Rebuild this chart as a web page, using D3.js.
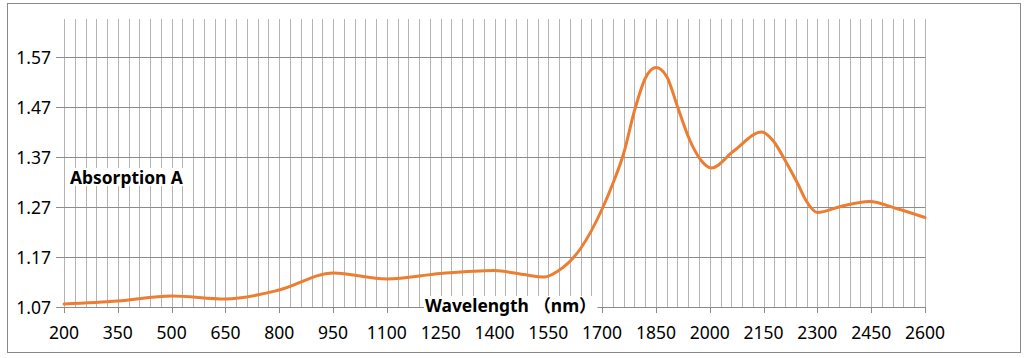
<!DOCTYPE html>
<html>
<head>
<meta charset="utf-8">
<script src="https://cdn.jsdelivr.net/npm/d3@7"></script>
<style>
  html, body { margin: 0; padding: 0; background: #fff; }
  svg { display: block; }
</style>
</head>
<body>
<svg id="chart" width="1028" height="358"></svg>
<script>
// ---- data ----
const wavelengths = [200, 350, 500, 650, 800, 950, 1100, 1250, 1400, 1480, 1540, 1575, 1640, 1700, 1730, 1760, 1790, 1820, 1850, 1880, 1910, 1940, 1975, 2005, 2065, 2145, 2175, 2215, 2245, 2270, 2300, 2365, 2445, 2520, 2600];
const absorbance  = [1.076, 1.082, 1.092, 1.086, 1.104, 1.138, 1.126, 1.137, 1.143, 1.135, 1.130, 1.141, 1.187, 1.266, 1.317, 1.377, 1.462, 1.527, 1.549, 1.531, 1.471, 1.411, 1.364, 1.348, 1.381, 1.420, 1.404, 1.357, 1.317, 1.281, 1.259, 1.271, 1.281, 1.267, 1.249];
const xTickValues = [200, 350, 500, 650, 800, 950, 1100, 1250, 1400, 1550, 1700, 1850, 2000, 2150, 2300, 2450, 2600];
const yTickValues = [1.07, 1.17, 1.27, 1.37, 1.47, 1.57];
const xGridValues = d3.range(200, 2601, 30);
const yTitle = "Absorption  A";
const xTitle = "Wavelength （nm）";

// ---- layout ----
const svg = d3.select("#chart");
const pLeft = 64, pRight = 925, pTop = 19, pBottom = 307;
const x = d3.scaleLinear().domain([200, 2600]).range([pLeft, pRight]);
const y = d3.scaleLinear().domain([1.07, 1.57]).range([pBottom, pBottom - 250]);
const font = "'Noto Sans', 'Noto Sans CJK SC', sans-serif";

// outer border
svg.append("rect").attr("x", 7.5).attr("y", 3.5).attr("width", 1013).attr("height", 349)
  .attr("fill", "#fff").attr("stroke", "#898989").attr("stroke-width", 1);

// vertical gridlines
svg.append("g").selectAll("line").data(xGridValues).join("line")
  .attr("x1", d => Math.round(x(d)) + 0.5).attr("x2", d => Math.round(x(d)) + 0.5)
  .attr("y1", pTop).attr("y2", pBottom)
  .attr("stroke", "#b4b4b4").attr("stroke-width", 1);

// horizontal gridlines
svg.append("g").selectAll("line").data(yTickValues).join("line")
  .attr("x1", pLeft - 8).attr("x2", pRight + 0.5)
  .attr("y1", d => Math.round(y(d)) + 0.5).attr("y2", d => Math.round(y(d)) + 0.5)
  .attr("stroke", "#8c8c8c").attr("stroke-width", 1);

// x axis ticks
svg.append("g").selectAll("line").data(xTickValues).join("line")
  .attr("x1", d => Math.round(x(d)) + 0.5).attr("x2", d => Math.round(x(d)) + 0.5)
  .attr("y1", pBottom).attr("y2", pBottom + 6)
  .attr("stroke", "#8c8c8c").attr("stroke-width", 1);

// x tick labels
svg.append("g").selectAll("text").data(xTickValues).join("text")
  .attr("x", d => x(d)).attr("y", 338.5)
  .attr("text-anchor", "middle")
  .attr("font-family", font).attr("font-size", 17.5).attr("fill", "#000")
  .text(d => d);

// y tick labels
svg.append("g").selectAll("text").data(yTickValues).join("text")
  .attr("x", 51).attr("y", d => y(d) + 6.5)
  .attr("text-anchor", "end")
  .attr("font-family", font).attr("font-size", 17.5).attr("fill", "#000")
  .text(d => d.toFixed(2));

// curve
const line = d3.line()
  .x((d, i) => x(wavelengths[i]))
  .y(d => y(d))
  .curve(d3.curveMonotoneX);
svg.append("path").datum(absorbance)
  .attr("d", line)
  .attr("fill", "none").attr("stroke", "#ED7D31").attr("stroke-width", 3)
  .attr("stroke-linejoin", "round").attr("stroke-linecap", "round");

// titles with white background
function title(txt, tx, ty, size, fam) {
  const g = svg.append("g");
  const bg = g.append("rect").attr("fill", "#fff");
  const t = g.append("text").attr("x", tx).attr("y", ty)
    .attr("font-family", fam).attr("font-size", size).attr("font-weight", "bold")
    .attr("fill", "#000").text(txt);
  const b = t.node().getBBox();
  bg.attr("x", b.x - 1).attr("y", b.y + 3).attr("width", b.width + 2).attr("height", b.height - 6);
}
title(yTitle, 70, 184, 17.4, font);
title(xTitle, 425, 312, 17.4, "'Noto Sans', 'Noto Sans CJK SC', sans-serif");
</script>
</body>
</html>
